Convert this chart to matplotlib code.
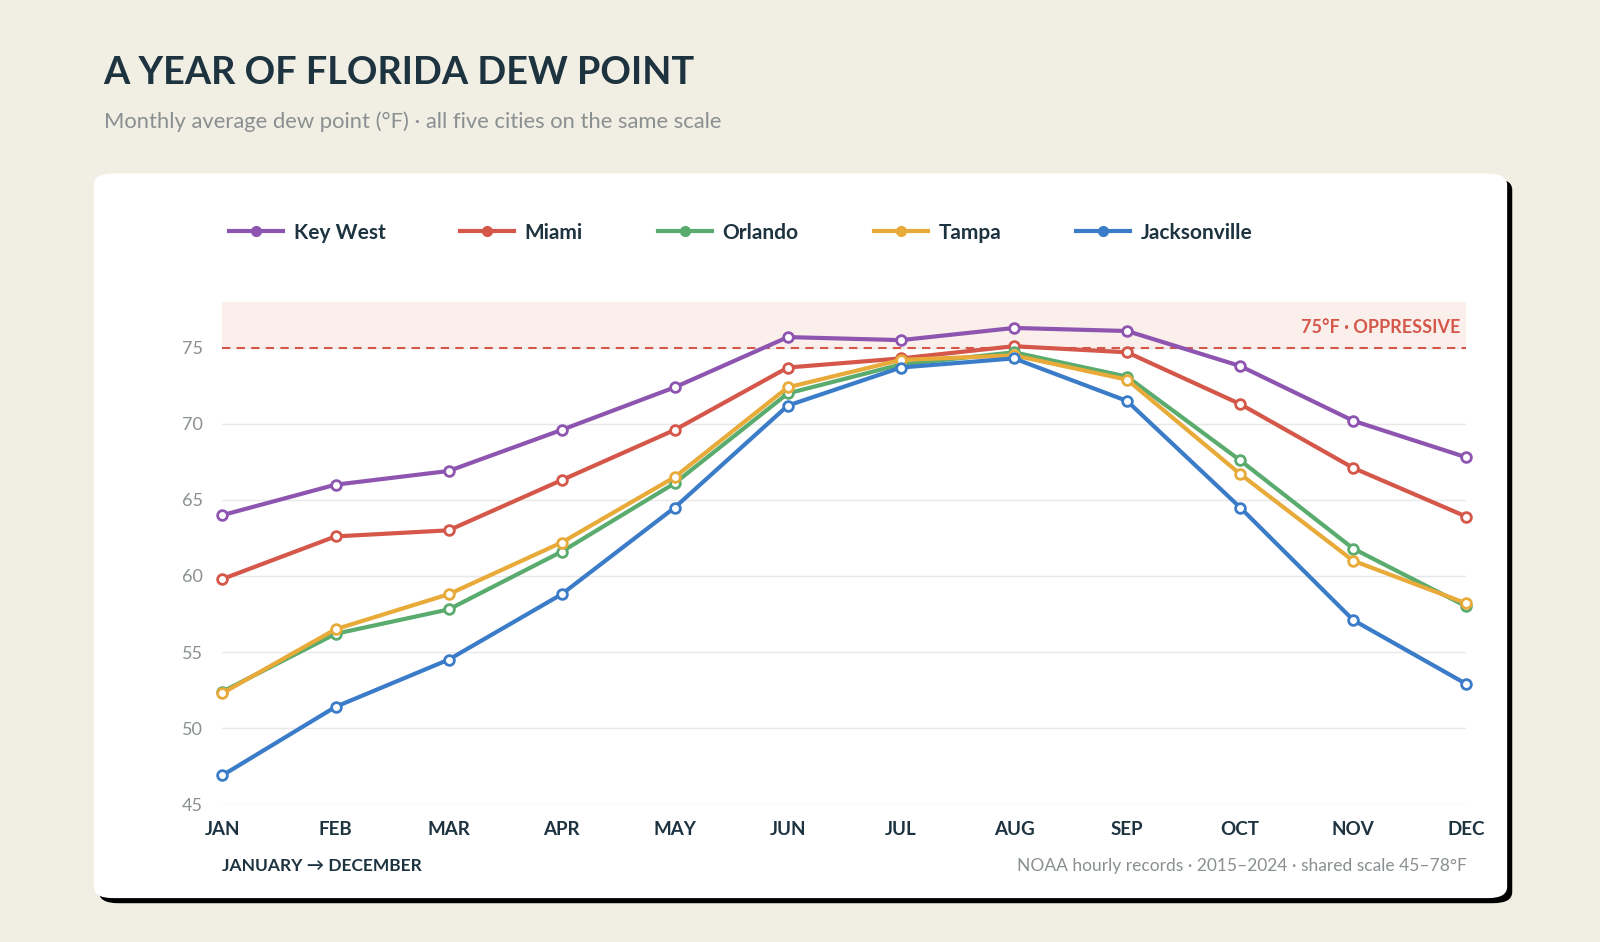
import matplotlib
matplotlib.use("Agg")
import matplotlib.pyplot as plt
from matplotlib.patches import FancyBboxPatch, Rectangle
from matplotlib.lines import Line2D

months = ["JAN","FEB","MAR","APR","MAY","JUN","JUL","AUG","SEP","OCT","NOV","DEC"]
key_west = [64.0,66.0,66.9,69.6,72.4,75.7,75.5,76.3,76.1,73.8,70.2,67.8]
miami = [59.8,62.6,63.0,66.3,69.6,73.7,74.3,75.1,74.7,71.3,67.1,63.9]
orlando = [52.4,56.2,57.8,61.6,66.1,72.0,73.9,74.7,73.1,67.6,61.8,58.0]
tampa = [52.3,56.5,58.8,62.2,66.5,72.4,74.2,74.5,72.9,66.7,61.0,58.2]
jacksonville = [46.9,51.4,54.5,58.8,64.5,71.2,73.7,74.3,71.5,64.5,57.1,52.9]
series = [("Key West", key_west, "#8e55b0"), ("Miami", miami, "#d4574a"),
          ("Orlando", orlando, "#5aab6e"), ("Tampa", tampa, "#e8aa38"),
          ("Jacksonville", jacksonville, "#3b7cc8")]
yticks = [45,50,55,60,65,70,75]

plt.rcParams['font.family'] = ['Lato', 'DejaVu Sans']
fig = plt.figure(figsize=(16, 9.42), dpi=100)
fig.patch.set_facecolor("#f1eee3")
W, H = 1568, 923
def fx(x): return x / W
def fy(y): return 1 - y / H

fig.patches.append(FancyBboxPatch((fx(97), fy(885)), fx(1385), (885-175)/H,
    boxstyle="round,pad=0,rounding_size=0.012", transform=fig.transFigure,
    facecolor="black", edgecolor="none", zorder=0))
fig.patches.append(FancyBboxPatch((fx(92), fy(880)), fx(1385), (880-170)/H,
    boxstyle="round,pad=0,rounding_size=0.012", transform=fig.transFigure,
    facecolor="white", edgecolor="none", zorder=1))

fig.text(fx(101), fy(72), "A YEAR OF FLORIDA DEW POINT", fontsize=27.3, fontweight="bold",
         color="#1d3340", va="center")
fig.text(fx(102), fy(119), "Monthly average dew point (°F) · all five cities on the same scale",
         fontsize=15.8, color="#8a8f91", va="center")

ax = fig.add_axes([fx(218), fy(788), fx(1437-218), (788-296)/H], zorder=2)
ax.set_facecolor("none")
x = list(range(len(months)))
ax.add_patch(Rectangle((0, 75), 11, 3, facecolor="#fbefec", edgecolor="none", zorder=0))
for t in yticks:
    ax.axhline(t, color="#e8e8e8", lw=1, zorder=1)
ax.axhline(75, color="#d4574a", lw=1.5, ls=(0, (4, 3)), zorder=2)
ax.text(10.95, 76.3, "75°F · OPPRESSIVE", color="#d4574a", fontsize=13, fontweight="bold",
        ha="right", va="center")
for name, vals, c in series:
    ax.plot(x, vals, color=c, lw=3, marker="o", ms=7, mfc="white", mec=c, mew=2,
            zorder=3, clip_on=False)
ax.set_xlim(0, 11)
ax.set_ylim(45, 78)
ax.set_yticks(yticks)
ax.set_xticks(x)
ax.set_xticklabels(months, fontsize=13.5, fontweight="bold", color="#1d3340")
ax.tick_params(axis="y", labelsize=13, colors="#8a8f91", length=0, pad=14)
ax.tick_params(axis="x", length=0, pad=12)
for s in ax.spines.values():
    s.set_visible(False)

handles = [Line2D([0], [0], color=c, lw=3, marker="o", ms=7, mfc=c, mec=c) for _, _, c in series]
fig.legend(handles, [n for n, _, _ in series], loc="center left",
           bbox_to_anchor=(fx(206), fy(228)), ncol=5, frameon=False,
           prop={"family": "Lato", "weight": "bold", "size": 15}, labelcolor="#1d3340",
           handlelength=2.6, columnspacing=3.6, handletextpad=0.5)

fig.text(fx(218), fy(849), "JANUARY → DECEMBER", fontsize=12.5, fontweight="bold",
         color="#1d3340", va="center", family=['Lato', 'DejaVu Sans'])
fig.text(fx(1437), fy(849), "NOAA hourly records · 2015–2024 · shared scale 45–78°F",
         fontsize=12.5, color="#8a8f91", va="center", ha="right")

fig.savefig("out.png", dpi=100, facecolor=fig.get_facecolor())
